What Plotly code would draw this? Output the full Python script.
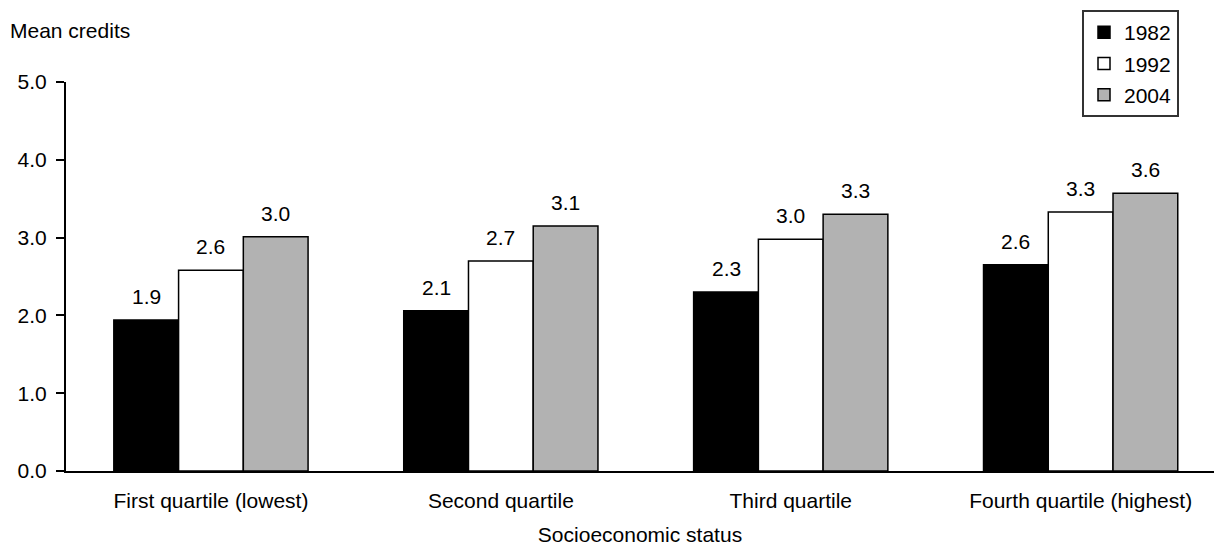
import plotly.graph_objects as go

categories = ["First quartile (lowest)", "Second quartile", "Third quartile", "Fourth quartile (highest)"]
years = ["1982", "1992", "2004"]
values_1982 = [1.94, 2.06, 2.30, 2.65]
values_1992 = [2.58, 2.70, 2.98, 3.33]
values_2004 = [3.01, 3.15, 3.30, 3.57]
labels_1982 = ["1.9", "2.1", "2.3", "2.6"]
labels_1992 = ["2.6", "2.7", "3.0", "3.3"]
labels_2004 = ["3.0", "3.1", "3.3", "3.6"]
y_ticks = [0, 1, 2, 3, 4, 5]

FONT = "Liberation Sans, Arial, Helvetica, sans-serif"
FS = 21
W, H = 1214, 552
ML, MR, MT, MB = 66, 0, 82, 81
PW, PH = W - ML - MR, H - MT - MB

series = [
    (years[0], values_1982, labels_1982, "#000000"),
    (years[1], values_1992, labels_1992, "#ffffff"),
    (years[2], values_2004, labels_2004, "#b2b2b2"),
]

x_range = [-0.5, 3.46]
bargap = 0.33
px_per_cat = PW / (x_range[1] - x_range[0])
bar_px = px_per_cat * (1 - bargap) / len(series)

fig = go.Figure()
annotations = []
for i, (name, vals, labs, color) in enumerate(series):
    fig.add_trace(go.Bar(
        name=name, x=categories, y=vals, legendgroup=name,
        marker=dict(color=color, line=dict(color="black", width=1.5)),
    ))
    shift = (i - (len(series) - 1) / 2) * bar_px
    for c, v, t in zip(categories, vals, labs):
        annotations.append(dict(
            x=c, y=v, text=t, xref="x", yref="y", showarrow=False,
            xanchor="center", yanchor="bottom", xshift=shift, yshift=10,
            font=dict(size=FS, family=FONT, color="black"),
        ))

annotations.append(dict(
    text="Mean credits", x=(8 - ML) / PW, y=1 + (MT - 30) / PH,
    xref="paper", yref="paper",
    xanchor="left", yanchor="middle", showarrow=False,
    font=dict(size=FS, family=FONT),
))

fig.update_layout(
    barmode="group", bargap=bargap, bargroupgap=0,
    width=W, height=H,
    margin=dict(l=ML, r=MR, t=MT, b=MB, autoexpand=False),
    paper_bgcolor="white", plot_bgcolor="white",
    font=dict(family=FONT, size=FS, color="black"),
    legend=dict(
        x=(1082 - ML) / PW, y=1 + (MT - 10) / PH,
        xanchor="left", yanchor="top",
        bordercolor="#333333", borderwidth=2,
        font=dict(size=FS, family=FONT),
        itemwidth=30, tracegroupgap=1,
    ),
    annotations=annotations,
)

fig.update_xaxes(
    range=x_range, showline=True, linecolor="black", linewidth=2,
    ticks="", tickfont=dict(size=FS, family=FONT), ticklabelstandoff=10,
    title=dict(text="Socioeconomic status", font=dict(size=FS, family=FONT), standoff=16),
)
fig.update_yaxes(
    range=[0, 5], tickvals=y_ticks, tickformat=".1f",
    showline=True, linecolor="black", linewidth=2,
    ticks="outside", ticklen=8, tickwidth=2, tickcolor="black",
    ticklabelstandoff=5,
    showgrid=False, zeroline=False, tickfont=dict(size=FS, family=FONT),
)

fig.write_html("out.html", config={"displayModeBar": False},
               post_script="document.body.style.margin='0';")
